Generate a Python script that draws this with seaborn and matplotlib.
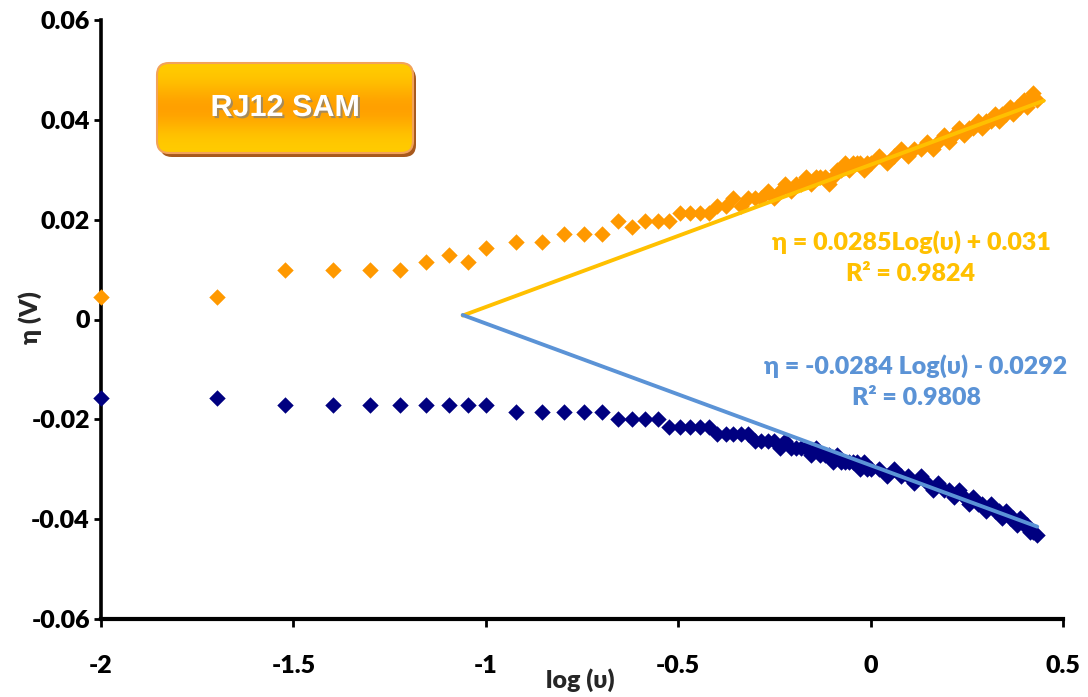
# -*- coding: utf-8 -*-
"""Tafel-like plot eta vs log(scan rate) for RJ12 SAM, anodic + cathodic branch."""

import numpy as np
import pandas as pd
import matplotlib
matplotlib.use("Agg")
import matplotlib.pyplot as plt
import matplotlib.patheffects as pe
from matplotlib.patches import FancyBboxPatch
import seaborn as sns

# scan rates (V/s), x axis is log10 of these
SCAN_RATE = [0.01, 0.02, 0.03, 0.04, 0.05, 0.06, 0.07, 0.08, 0.09, 0.10,
             0.12, 0.14, 0.16, 0.18, 0.20, 0.22, 0.24, 0.26, 0.28, 0.30,
             0.32, 0.34, 0.36, 0.38, 0.40, 0.42, 0.44, 0.46, 0.48, 0.50,
             0.52, 0.54, 0.56, 0.58, 0.60, 0.62, 0.64, 0.66, 0.68, 0.70,
             0.72, 0.74, 0.76, 0.78, 0.80, 0.82, 0.84, 0.86, 0.88, 0.90,
             0.92, 0.94, 0.96, 0.98, 1.00,
             1.05, 1.10, 1.15, 1.20, 1.25, 1.30, 1.35, 1.40, 1.45, 1.50,
             1.55, 1.60, 1.65, 1.70, 1.75, 1.80, 1.85, 1.90, 1.95, 2.00,
             2.05, 2.10, 2.15, 2.20, 2.25, 2.30, 2.35, 2.40, 2.45, 2.50,
             2.55, 2.60, 2.65, 2.70]

ETA_ANODIC = [0.0045, 0.0045, 0.0100, 0.0100, 0.0100, 0.0100, 0.0115, 0.0129, 0.0115, 0.0143,
              0.0156, 0.0156, 0.0171, 0.0171, 0.0171, 0.0198, 0.0185, 0.0198, 0.0198, 0.0198,
              0.0213, 0.0213, 0.0213, 0.0213, 0.0227, 0.0227, 0.0243, 0.0227, 0.0243, 0.0243,
              0.0243, 0.0257, 0.0243, 0.0257, 0.0271, 0.0257, 0.0271, 0.0271, 0.0285, 0.0271,
              0.0285, 0.0285, 0.0285, 0.0271, 0.0285, 0.0299, 0.0299, 0.0313, 0.0299, 0.0313,
              0.0313, 0.0313, 0.0299, 0.0313, 0.0313,
              0.0327, 0.0313, 0.0327, 0.0341, 0.0327, 0.0341, 0.0341, 0.0355, 0.0341, 0.0355,
              0.0369, 0.0355, 0.0369, 0.0383, 0.0369, 0.0383, 0.0383, 0.0397, 0.0383, 0.0397,
              0.0397, 0.0411, 0.0397, 0.0411, 0.0411, 0.0425, 0.0411, 0.0425, 0.0425, 0.0439,
              0.0425, 0.0439, 0.0453, 0.0439]

ETA_CATHODIC = [-0.0158, -0.0158, -0.0172, -0.0172, -0.0172, -0.0172, -0.0172, -0.0172, -0.0172, -0.0172,
                -0.0186, -0.0186, -0.0186, -0.0186, -0.0186, -0.0200, -0.0200, -0.0200, -0.0200, -0.0215,
                -0.0215, -0.0215, -0.0215, -0.0215, -0.0229, -0.0229, -0.0229, -0.0229, -0.0229, -0.0243,
                -0.0243, -0.0243, -0.0243, -0.0257, -0.0243, -0.0257, -0.0257, -0.0257, -0.0257, -0.0271,
                -0.0257, -0.0271, -0.0271, -0.0271, -0.0285, -0.0271, -0.0285, -0.0285, -0.0285, -0.0285,
                -0.0285, -0.0299, -0.0285, -0.0299, -0.0299,
                -0.0299, -0.0313, -0.0299, -0.0313, -0.0313, -0.0327, -0.0313, -0.0327, -0.0341, -0.0327,
                -0.0341, -0.0341, -0.0355, -0.0341, -0.0355, -0.0369, -0.0355, -0.0369, -0.0369, -0.0383,
                -0.0369, -0.0383, -0.0383, -0.0397, -0.0383, -0.0397, -0.0397, -0.0411, -0.0397, -0.0411,
                -0.0411, -0.0425, -0.0425, -0.0432]

# trendlines (slope, intercept) and x range as drawn
FIT_ANODIC = (0.0285, 0.031)
FIT_CATHODIC = (-0.0284, -0.0292)
FIT_X_AN = [-1.06, 0.45]
FIT_X_CA = [-1.06, 0.433]

EQ_ANODIC = ["η = 0.0285Log(υ) + 0.031", "R² = 0.9824"]
EQ_CATHODIC = ["η = -0.0284 Log(υ) - 0.0292", "R² = 0.9808"]

X_TICKS = [-2, -1.5, -1, -0.5, 0, 0.5]
Y_TICKS = [-0.06, -0.04, -0.02, 0, 0.02, 0.04, 0.06]

C_AN = "#FF9900"
C_CA = "#000080"
C_FIT_AN = "#FFC000"
C_FIT_CA = "#5B93D6"

sns.set_theme(style="white")
plt.rcParams["font.family"] = ["Lato", "DejaVu Sans"]

df = pd.DataFrame({"logv": np.log10(SCAN_RATE), "an": ETA_ANODIC, "ca": ETA_CATHODIC})

W, H = 1088, 697
fig = plt.figure(figsize=(W / 100, H / 100), dpi=100)
ax = fig.add_axes([101 / W, 1 - 619 / H, (1063 - 101) / W, (619 - 20) / H])

sns.scatterplot(data=df, x="logv", y="an", marker="D", color=C_AN, s=70,
                linewidth=0, ax=ax, clip_on=False, zorder=3)
sns.scatterplot(data=df, x="logv", y="ca", marker="D", color=C_CA, s=70,
                linewidth=0, ax=ax, clip_on=False, zorder=3)

for (k, b), xr, c in [(FIT_ANODIC, FIT_X_AN, C_FIT_AN), (FIT_CATHODIC, FIT_X_CA, C_FIT_CA)]:
    xs = np.array(xr)
    sns.lineplot(x=xs, y=k * xs + b, color=c, linewidth=2.8, ax=ax, zorder=4)

ax.set_xlim(-2, 0.5)
ax.set_ylim(-0.06, 0.06)
ax.set_xticks(X_TICKS)
ax.set_xticklabels(["-2", "-1.5", "-1", "-0.5", "0", "0.5"])
ax.set_yticks(Y_TICKS)
ax.set_yticklabels(["-0.06", "-0.04", "-0.02", "0", "0.02", "0.04", "0.06"])
ax.tick_params(axis="x", direction="out", length=6, width=2, pad=20, labelsize=18,
               colors="black", bottom=True)
ax.tick_params(axis="y", direction="out", length=5, width=2, pad=3, labelsize=18,
               colors="black", left=True)
for lab in ax.get_xticklabels() + ax.get_yticklabels():
    lab.set_fontweight("heavy")

for s in ["top", "right"]:
    ax.spines[s].set_visible(False)
ax.spines["left"].set_linewidth(2.6)
ax.spines["bottom"].set_linewidth(3.0)
ax.spines["left"].set_color("black")
ax.spines["bottom"].set_color("black")
ax.set_xlabel("")
ax.set_ylabel("")

fig.text(580 / W, 1 - 680 / H, "log (υ)", ha="center", va="center",
         fontsize=18, fontweight="heavy")
fig.text(30 / W, 1 - 318 / H, "η (V)", ha="center", va="center", rotation=90,
         fontsize=18, fontweight="heavy")

ax.text(0.105, 0.0155, EQ_ANODIC[0], ha="center", va="center", color=C_FIT_AN,
        fontsize=18, fontweight="heavy")
ax.text(0.105, 0.0091, EQ_ANODIC[1], ha="center", va="center", color=C_FIT_AN,
        fontsize=18, fontweight="heavy")
ax.text(0.118, -0.0093, EQ_CATHODIC[0], ha="center", va="center", color=C_FIT_CA,
        fontsize=18, fontweight="heavy")
ax.text(0.118, -0.0157, EQ_CATHODIC[1], ha="center", va="center", color=C_FIT_CA,
        fontsize=18, fontweight="heavy")

# "RJ12 SAM" badge, axes in pixel units so corners stay round
bx = fig.add_axes([150 / W, 1 - 165 / H, 270 / W, 110 / H])
bx.set_xlim(0, 270)
bx.set_ylim(0, 110)
bx.axis("off")
shadow = FancyBboxPatch((10, 8), 256, 90, boxstyle="round,pad=0,rounding_size=12",
                        fc="#A8591C", ec="none")
bx.add_patch(shadow)
badge = FancyBboxPatch((7, 12), 256, 90, boxstyle="round,pad=0,rounding_size=12",
                       fc="none", ec="#F2A35A", lw=1.5, zorder=3)
bx.add_patch(badge)
grad = np.array([[1.0], [0.75], [0.3], [0.0], [0.3], [0.8], [1.0]])
cmap = matplotlib.colors.LinearSegmentedColormap.from_list("badge", ["#FF9C00", "#FFCB00"])
im = bx.imshow(grad, cmap=cmap, extent=(7, 263, 12, 102), aspect="auto",
               interpolation="bicubic", zorder=2)
im.set_clip_path(FancyBboxPatch((7, 12), 256, 90, boxstyle="round,pad=0,rounding_size=12",
                                transform=bx.transData))
bx.text(135, 57, "RJ12 SAM", ha="center", va="center", color="white",
        fontsize=22, fontweight="bold", family=["Liberation Sans", "DejaVu Sans"], zorder=4,
        path_effects=[pe.SimplePatchShadow(offset=(1.5, -1.5), shadow_rgbFace="#808080", alpha=0.7),
                      pe.Normal()])

fig.savefig("out.png", dpi=100)
